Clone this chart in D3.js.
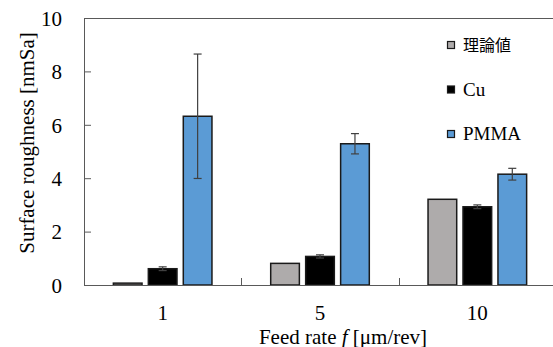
<!DOCTYPE html>
<html>
<head>
<meta charset="utf-8">
<script src="https://cdn.jsdelivr.net/npm/d3@7"></script>
<style>
  body { margin: 0; background: #fff; }
  svg { display: block; }
</style>
</head>
<body>
<svg id="chart" width="553" height="347"></svg>
<script>
const categories = ['1', '5', '10'];
const series = ['理論値', 'Cu', 'PMMA'];
const theory = [0.07, 0.81, 3.21];
const cu = [0.61, 1.07, 2.93];
const cuErr = [0.07, 0.06, 0.07];
const pmma = [6.32, 5.29, 4.15];
const pmmaErr = [2.33, 0.38, 0.22];
const yTicks = [0, 2, 4, 6, 8, 10];
const colors = ['#aeabab', '#000000', '#5b9bd5'];

const SERIF = 'Liberation Serif, DejaVu Serif, serif';
const JP = 'Noto Sans CJK JP, sans-serif';

const svg = d3.select('#chart');
const margin = { left: 84, right: -3, top: 18, bottom: 62 };
const width = 553 - margin.left - margin.right;
const height = 347 - margin.top - margin.bottom;

// figure caption, mostly cut off above the picture
svg.append('text')
  .attr('x', 270).attr('y', -5)
  .attr('text-anchor', 'middle')
  .attr('font-family', JP)
  .attr('font-size', 17)
  .text('図 5  送り量に対する表面粗さの比較');

const g = svg.append('g').attr('transform', `translate(${margin.left},${margin.top})`);

const x0 = d3.scaleBand().domain(categories).range([0, width]);
const x1 = d3.scaleBand().domain(series).range([0, x0.bandwidth()]).paddingInner(0.18).paddingOuter(0.84);
const y = d3.scaleLinear().domain([0, 10]).range([height, 0]);

const rows = categories.map((c, i) => ({
  cat: c,
  bars: [
    { s: series[0], v: theory[i], e: 0 },
    { s: series[1], v: cu[i], e: cuErr[i] },
    { s: series[2], v: pmma[i], e: pmmaErr[i] }
  ]
}));

// plot frame: top line
g.append('line').attr('x1', 0).attr('x2', width).attr('y1', 0.5).attr('y2', 0.5)
  .attr('stroke', '#595959').attr('stroke-width', 1);

const groups = g.selectAll('.grp').data(rows).enter().append('g')
  .attr('class', 'grp')
  .attr('transform', d => `translate(${x0(d.cat)},0)`);

groups.selectAll('rect').data(d => d.bars).enter().append('rect')
  .attr('x', d => x1(d.s))
  .attr('y', d => y(d.v))
  .attr('width', x1.bandwidth())
  .attr('height', d => height - y(d.v))
  .attr('fill', (d, i) => colors[i])
  .attr('stroke', '#1a1a1a')
  .attr('stroke-width', 1.5);

// error bars
const eb = groups.selectAll('.err').data(d => d.bars.filter(b => b.e > 0)).enter().append('g')
  .attr('class', 'err')
  .attr('stroke', '#404040').attr('stroke-width', 1.2);
eb.append('line')
  .attr('x1', d => x1(d.s) + x1.bandwidth() / 2).attr('x2', d => x1(d.s) + x1.bandwidth() / 2)
  .attr('y1', d => y(d.v + d.e)).attr('y2', d => y(d.v - d.e));
[1, -1].forEach(sg => {
  eb.append('line')
    .attr('x1', d => x1(d.s) + x1.bandwidth() / 2 - 4).attr('x2', d => x1(d.s) + x1.bandwidth() / 2 + 4)
    .attr('y1', d => y(d.v + sg * d.e)).attr('y2', d => y(d.v + sg * d.e));
});

// y axis
const yAxis = g.append('g').call(d3.axisLeft(y).tickValues(yTicks).tickSize(-7).tickPadding(22));
yAxis.attr('font-family', SERIF).attr('font-size', 21);
yAxis.select('.domain').attr('stroke', '#595959');
yAxis.selectAll('.tick line').attr('stroke', '#595959');
yAxis.selectAll('text').attr('dy', '0.35em');

// x axis, ticks between categories
const xAxis = g.append('g').attr('transform', `translate(0,${height})`)
  .call(d3.axisBottom(x0).tickSize(0).tickPadding(20));
xAxis.attr('font-family', SERIF).attr('font-size', 21);
xAxis.select('.domain').attr('stroke', '#595959');
g.append('g').selectAll('line').data(categories.slice(1)).enter().append('line')
  .attr('x1', d => Math.round(x0(d)) + 0.5).attr('x2', d => Math.round(x0(d)) + 0.5)
  .attr('y1', height).attr('y2', height - 7)
  .attr('stroke', '#595959');

// axis titles
svg.append('text')
  .attr('transform', 'translate(34,143) rotate(-90)')
  .attr('text-anchor', 'middle')
  .attr('font-family', SERIF)
  .attr('font-size', 21)
  .text('Surface roughness [nmSa]');

const xt = svg.append('text')
  .attr('x', 343).attr('y', 344)
  .attr('text-anchor', 'middle')
  .attr('font-family', SERIF)
  .attr('font-size', 21);
xt.append('tspan').text('Feed rate ');
xt.append('tspan').attr('font-style', 'italic').text('f');
xt.append('tspan').text(' [μm/rev]');

// legend
const lg = svg.append('g').attr('transform', 'translate(447,45)');
const li = lg.selectAll('g').data(series).enter().append('g')
  .attr('transform', (d, i) => `translate(0,${i * 44.5})`);
li.append('rect').attr('x', 0.5).attr('y', -3.5).attr('width', 7).attr('height', 7)
  .attr('fill', (d, i) => colors[i]).attr('stroke', '#1a1a1a').attr('stroke-width', 1.2);
li.append('text')
  .attr('x', 16).attr('y', 6)
  .attr('font-family', (d, i) => i === 0 ? JP : SERIF)
  .attr('font-size', (d, i) => i === 0 ? 16 : 19)
  .text(d => d);
</script>
</body>
</html>
